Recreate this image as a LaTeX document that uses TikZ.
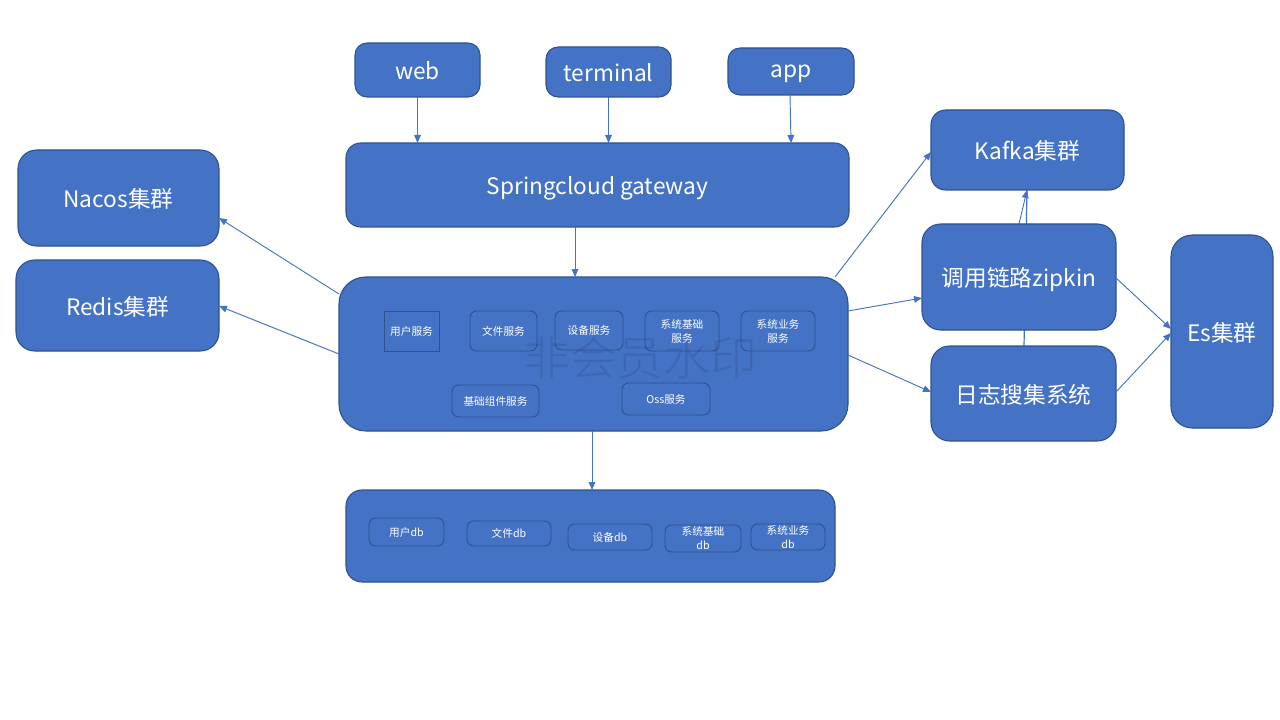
\documentclass[tikz,border=0pt]{standalone}
\usepackage{fontspec}
\setmainfont{Noto Sans CJK SC}
\newfontfamily\wmfont{Noto Sans CJK SC Light}
\usetikzlibrary{fit,arrows.meta,backgrounds}
\definecolor{bl}{HTML}{4472C4}
\definecolor{bd}{HTML}{2F528F}
\tikzset{
  box/.style={draw=bd, line width=0.8pt, fill=bl, inner sep=0pt, outer sep=0pt, rounded corners=#1},
  big/.style={text=white, inner sep=0pt, align=center, text depth=0pt, font=\fontsize{17}{20}\selectfont},
  small/.style={text=white, inner sep=0pt, align=center, font=\fontsize{8}{10.5}\selectfont},
  thin/.style={line width=0.7pt},
  arr/.style={draw=bl, line width=0.7pt, -{Triangle[length=6pt,width=5pt]}},
  plain/.style={draw=bl, line width=0.9pt}
}
\begin{document}
\begin{tikzpicture}[x=0.75pt,y=-0.75pt]
\useasboundingbox (0,0) rectangle (1280,720);
% clients
\node[box=9pt, fit={(355,43) (480,97)}, label={[big]center:web}] (web) {};
\node[box=9pt, fit={(546,47) (671,97)}, label={[big]center:terminal}] (term) {};
\node[box=9pt, fit={(728,48) (854,95)}, label={[big]center:app}] (app) {};
% gateway
\node[box=11pt, fit={(346,143) (849,227)}, label={[big]center:Springcloud gateway}] (gw) {};
% left clusters
\node[box=14pt, fit={(18,150) (219,246)}, label={[big]center:Nacos集群}] (nacos) {};
\node[box=14pt, fit={(16,260) (219,351)}, label={[big]center:Redis集群}] (redis) {};
% services
\node[box=20pt, fit={(339,277) (848,431)}] (svc) {};
\node[box=0pt, thin, fit={(384,311) (439,351)}, label={[small]center:用户服务}] (s1) {};
\node[box=5pt, thin, fit={(470,311) (537,351)}, label={[small]center:文件服务}] (s2) {};
\node[box=5pt, thin, fit={(555,311) (623,350)}, label={[small]center:设备服务}] (s3) {};
\node[box=5pt, thin, fit={(645,311) (719,351)}, label={[small]center:{系统基础\\服务}}] (s4) {};
\node[box=5pt, thin, fit={(741,311) (815,351)}, label={[small]center:{系统业务\\服务}}] (s5) {};
\node[box=5pt, thin, fit={(452,385) (539,417)}, label={[small]center:基础组件服务}] (s6) {};
\node[box=5pt, thin, fit={(622,383) (710,415)}, label={[small]center:Oss服务}] (s7) {};
\node[text=black, opacity=0.09, font=\wmfont\fontsize{35}{36}\selectfont] (wm) at (640,358) {非会员水印};
% databases
\node[box=12pt, fit={(346,490) (835,582)}] (db) {};
\node[box=5pt, thin, fit={(369,518) (444,546)}, label={[small]center:用户db}] (d1) {};
\node[box=5pt, thin, fit={(467,521) (551,546)}, label={[small]center:文件db}] (d2) {};
\node[box=5pt, thin, fit={(568,524) (652,550)}, label={[small]center:设备db}] (d3) {};
\node[box=5pt, thin, fit={(665,525) (741,552)}, label={[small]center:{系统基础\\db}}] (d4) {};
\node[box=5pt, thin, fit={(751,524) (825,550)}, label={[small]center:{系统业务\\db}}] (d5) {};
% right side
\node[box=11pt, fit={(931,110) (1124,190)}, label={[big]center:Kafka集群}] (kafka) {};
\node[box=14pt, fit={(922,224) (1116,330)}, label={[big]center:调用链路zipkin}] (zip) {};
\node[box=14pt, fit={(931,346) (1116,441)}, label={[big]center:日志搜集系统}] (log) {};
\node[box=16pt, fit={(1171,235) (1273,428)}, label={[big]center:Es集群}] (es) {};
% connectors
\begin{pgfonlayer}{background}
\draw[plain] (log.north -| 1024,0) -- (kafka.south -| 1027,0);
\end{pgfonlayer}
\draw[arr] (web.south) -- (web.south |- gw.north);
\draw[arr] (term.south) -- (term.south |- gw.north);
\draw[arr] (app.south -| 790,0) -- (gw.north -| 791,0);
\draw[arr] (gw.south -| 575,0) -- (svc.north -| 575,0);
\draw[arr] (svc.south -| 592,0) -- (db.north -| 592,0);
\draw[arr] (svc.west |- 0,294) -- (nacos.east |- 0,218);
\draw[arr] (svc.west |- 0,354) -- (redis.east |- 0,306);
\draw[arr] (svc.north -| 835,0) -- (kafka.west |- 0,152);
\draw[arr] (svc.east |- 0,311) -- (zip.west |- 0,298);
\draw[arr] (svc.east |- 0,355) -- (log.west |- 0,392);
\draw[arr] (zip.east |- 0,278) -- (es.west |- 0,329);
\draw[arr] (log.east |- 0,392) -- (es.west |- 0,333);
\draw[arr] (zip.north -| 1019,0) -- (kafka.south -| 1027,0);
\end{tikzpicture}
\end{document}
